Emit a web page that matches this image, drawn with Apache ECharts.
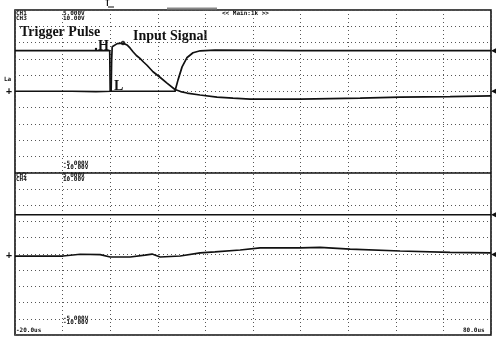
<!DOCTYPE html>
<html>
<head>
<meta charset="utf-8">
<script src="https://cdn.jsdelivr.net/npm/echarts@6/dist/echarts.min.js"></script>
<style>
  html, body { margin: 0; padding: 0; background: #fff; }
  #scope { width: 496px; height: 339px; }
</style>
</head>
<body>
<div id="scope"></div>
<script>
// Time base: -20 us .. 80 us, 10 us per division
const timeMin = -20;
const timeMax = 80;
const timeStep = 10;
// Vertical scale in divisions, split screen: upper pair above 0, lower pair below
const divMin = -10;
const divMax = 10;

// Upper screen: CH1 trigger pulse (H/L levels) and CH3 input signal, [us, div]
const triggerPulse = [
  [-20, 7.5], [-0.1, 7.5], [0, 5.0], [13.6, 5.0], [14.25, 5.7], [15.1, 6.5],
  [16.1, 7.06], [17.4, 7.37], [18.9, 7.49], [22, 7.53], [40, 7.5], [80, 7.5]
];
const inputSignal = [
  [-20, 5.0], [-8, 5.0], [-3, 4.98], [0.2, 5.0], [0.3, 6.9], [0.42, 7.74],
  [1.47, 7.93], [2.69, 7.96], [3.53, 7.85], [4.2, 7.65], [4.79, 7.43], [5.5, 7.2],
  [6.26, 7.02], [7.0, 6.8], [7.73, 6.6], [8.99, 6.2], [10.46, 5.86],
  [11.93, 5.5], [13.61, 5.11], [14.8, 4.98], [16.13, 4.89], [18.86, 4.77],
  [22.44, 4.64], [25.8, 4.58], [29.37, 4.52], [39.87, 4.52], [46.2, 4.55],
  [52.5, 4.58], [60.9, 4.64], [71.4, 4.67], [80, 4.71]
];
// Lower screen: CH2 flat trace and CH4 trace
const ch2Trace = [[-20, -2.6], [80, -2.6]];
const ch4Trace = [
  [-20, -5.14], [-9.9, -5.14], [-6.3, -5.03], [-2.1, -5.05], [0, -5.2],
  [4.2, -5.2], [7.3, -5.08], [8.8, -5.02], [10.5, -5.2], [14.7, -5.14],
  [18.9, -4.95], [22.0, -4.89], [27.3, -4.77], [31.5, -4.64], [39.9, -4.64],
  [44.1, -4.61], [50.4, -4.71], [60.9, -4.83], [71.4, -4.92], [80, -4.95]
];
// Channel reference levels marked at the right edge
const refLevels = [7.5, 5.0, -2.6, -5.05];

// Readout texts
const upperChannels = ['CH1', 'CH3'];
const upperScales = ['5.000V', '10.00V'];
const upperOffsets = ['-5.000V', '-10.00V'];
const lowerChannels = ['CH2', 'CH4'];
const lowerScales = ['5.000V', '10.00V'];
const lowerOffsets = ['-5.000V', '-10.00V'];
const timeLabels = ['-20.0us', '80.0us'];
const zoomLabel = '<< Main:1k >>';

const chart = echarts.init(document.getElementById('scope'), null, { renderer: 'canvas' });

const ink = '#111';
const gridDots = { color: '#555', width: 1, type: [1, 3] };
const tiny = { fontFamily: 'DejaVu Sans Mono', fontSize: 6, fontWeight: 'bold', fill: ink };
const serifBold = { fontFamily: 'Liberation Serif', fontWeight: 'bold', fontSize: 14, fill: ink };

function traceSeries(name, data) {
  return {
    name: name,
    type: 'line',
    data: data,
    symbol: 'none',
    lineStyle: { color: ink, width: 1.7 },
    animation: false,
    z: 5
  };
}

chart.setOption({
  animation: false,
  backgroundColor: '#fff',
  grid: {
    left: 15, right: 5, top: 10, bottom: 4,
    show: true, borderColor: ink, borderWidth: 1.6, backgroundColor: 'transparent'
  },
  xAxis: {
    type: 'value', min: timeMin, max: timeMax, interval: timeStep,
    axisLine: { show: false }, axisTick: { show: false }, axisLabel: { show: false },
    splitLine: { show: true, lineStyle: gridDots }
  },
  yAxis: {
    type: 'value', min: divMin, max: divMax, interval: 1,
    axisLine: { show: false }, axisTick: { show: false }, axisLabel: { show: false },
    splitLine: { show: true, lineStyle: gridDots }
  },
  series: [
    traceSeries('CH1', triggerPulse),
    traceSeries('CH3', inputSignal),
    traceSeries('CH2', ch2Trace),
    Object.assign(traceSeries('CH4', ch4Trace), {
      markLine: {
        silent: true, symbol: 'none', label: { show: false },
        lineStyle: { color: ink, width: 1.6, type: 'solid' },
        data: [{ yAxis: 0 }]
      },
      markPoint: {
        silent: true, symbol: 'triangle', symbolRotate: 90, symbolSize: [6, 6],
        symbolOffset: [3, 0], itemStyle: { color: ink }, label: { show: false },
        data: refLevels.map(v => ({ coord: [timeMax, v] }))
      }
    })
  ],
  graphic: [
    // record position bar on top edge
    { type: 'rect', shape: { x: 167, y: 7.5, width: 50, height: 2 }, style: { fill: '#888' } },
    // trigger position mark
    { type: 'text', x: 105, y: 0, style: Object.assign({}, tiny, { text: 'T', fontSize: 8 }) },
    { type: 'line', shape: { x1: 108, y1: 7, x2: 114, y2: 7 }, style: { stroke: ink, lineWidth: 1 } },
    // upper readouts
    { type: 'text', x: 16, y: 10.5, style: Object.assign({}, tiny, { text: upperChannels.join('\n'), lineHeight: 5 }) },
    { type: 'text', x: 63, y: 10.5, style: Object.assign({}, tiny, { text: upperScales.join('\n'), lineHeight: 5 }) },
    { type: 'text', x: 222, y: 10.5, style: Object.assign({}, tiny, { text: zoomLabel }) },
    { type: 'text', x: 63, y: 161.5, style: Object.assign({}, tiny, { text: upperOffsets.join('\n'), lineHeight: 4 }) },
    // lower readouts
    { type: 'text', x: 16, y: 173, style: Object.assign({}, tiny, { text: lowerChannels.join('\n'), lineHeight: 4 }) },
    { type: 'text', x: 63, y: 173, style: Object.assign({}, tiny, { text: lowerScales.join('\n'), lineHeight: 4 }) },
    { type: 'text', x: 63, y: 316, style: Object.assign({}, tiny, { text: lowerOffsets.join('\n'), lineHeight: 4 }) },
    { type: 'text', x: 16, y: 327, style: Object.assign({}, tiny, { text: timeLabels[0] }) },
    { type: 'text', x: 463, y: 327, style: Object.assign({}, tiny, { text: timeLabels[1] }) },
    // level / ground markers on the left
    { type: 'text', x: 4, y: 76, style: Object.assign({}, tiny, { text: 'La' }) },
    { type: 'text', x: 6, y: 86, style: Object.assign({}, tiny, { text: '+', fontSize: 10 }) },
    { type: 'text', x: 6, y: 250, style: Object.assign({}, tiny, { text: '+', fontSize: 10 }) },
    // annotations
    { type: 'text', x: 20, y: 25, style: Object.assign({}, serifBold, { text: 'Trigger Pulse' }) },
    { type: 'text', x: 133, y: 29, style: Object.assign({}, serifBold, { text: 'Input Signal' }) },
    { type: 'text', x: 98, y: 39, style: Object.assign({}, serifBold, { text: 'H' }) },
    { type: 'circle', shape: { cx: 96, cy: 49, r: 1.2 }, style: { fill: ink } },
    { type: 'text', x: 114, y: 79, style: Object.assign({}, serifBold, { text: 'L' }) },
    { type: 'circle', shape: { cx: 123, cy: 43, r: 1.8 }, style: { fill: 'none', stroke: ink, lineWidth: 1 } }
  ]
});
</script>
</body>
</html>
